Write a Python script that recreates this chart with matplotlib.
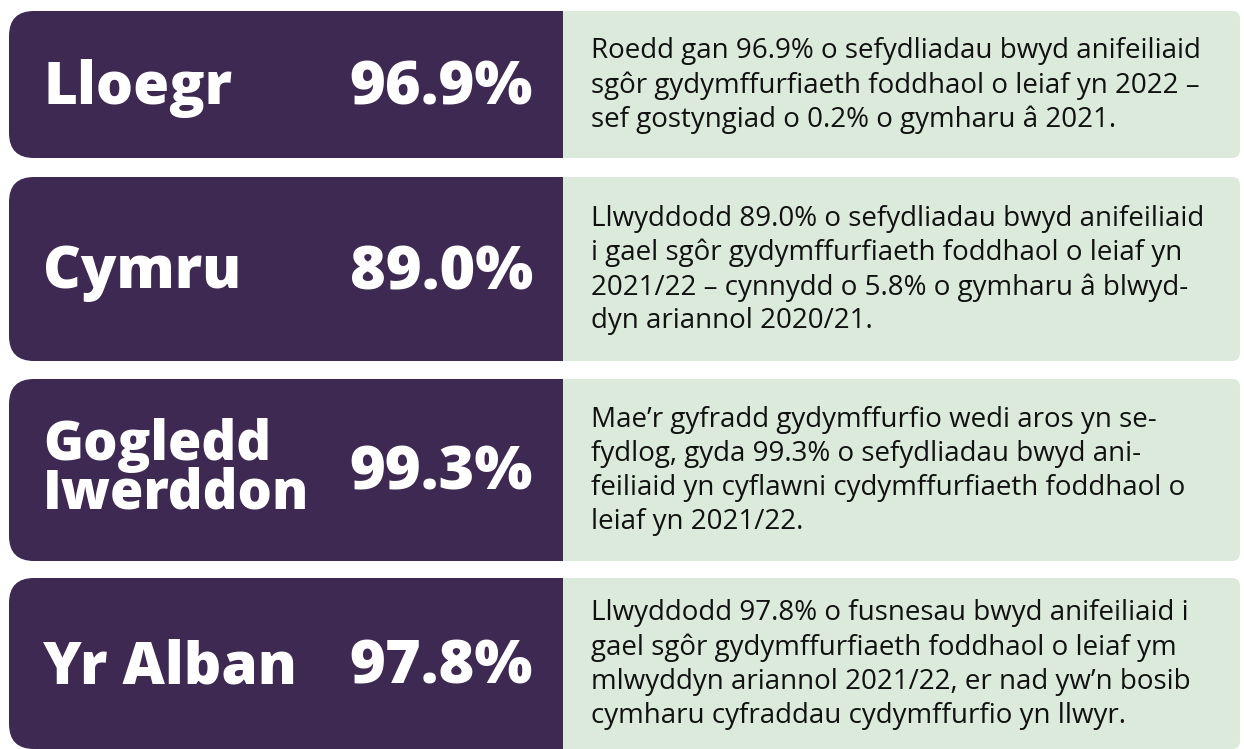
import matplotlib.pyplot as plt
from matplotlib.patches import FancyBboxPatch, Rectangle

# data
regions = ['Lloegr', 'Cymru', 'Gogledd\nIwerddon', 'Yr Alban']
percents = [96.9, 89.0, 99.3, 97.8]
notes = [
    'Roedd gan 96.9% o sefydliadau bwyd anifeiliaid\n'
    'sgôr gydymffurfiaeth foddhaol o leiaf yn 2022 –\n'
    'sef gostyngiad o 0.2% o gymharu â 2021.',
    'Llwyddodd 89.0% o sefydliadau bwyd anifeiliaid\n'
    'i gael sgôr gydymffurfiaeth foddhaol o leiaf yn\n'
    '2021/22 – cynnydd o 5.8% o gymharu â blwyd-\n'
    'dyn ariannol 2020/21.',
    'Mae’r gyfradd gydymffurfio wedi aros yn se-\n'
    'fydlog, gyda 99.3% o sefydliadau bwyd ani-\n'
    'feiliaid yn cyflawni cydymffurfiaeth foddhaol o\n'
    'leiaf yn 2021/22.',
    'Llwyddodd 97.8% o fusnesau bwyd anifeiliaid i\n'
    'gael sgôr gydymffurfiaeth foddhaol o leiaf ym\n'
    'mlwyddyn ariannol 2021/22, er nad yw’n bosib\n'
    'cymharu cyfraddau cydymffurfio yn llwyr.',
]

# layout (pixels)
tops = [11, 177, 379, 578]
bottoms = [158, 361, 561, 749]
label_size = [42, 42, 39, 42]
label_shift = [4, 4, 0, 4]
x0, xsplit, x1 = 9, 563, 1240
purple = '#3d2951'
green = '#dbeada'

W, H = 1244, 749
fig = plt.figure(figsize=(W / 100, H / 100), dpi=100)
ax = fig.add_axes([0, 0, 1, 1])
ax.set_xlim(0, W)
ax.set_ylim(H, 0)
ax.axis('off')

for i in range(4):
    t, b = tops[i], bottoms[i]
    h = b - t
    mid = (t + b) / 2
    # green part, slightly rounded on the right
    ax.add_patch(FancyBboxPatch((xsplit - 30, t), x1 - xsplit + 30, h,
                                boxstyle='round,pad=0,rounding_size=8',
                                fc=green, ec='none'))
    # purple part, rounded on the left
    ax.add_patch(FancyBboxPatch((x0, t), xsplit - x0, h,
                                boxstyle='round,pad=0,rounding_size=25',
                                fc=purple, ec='none'))
    ax.add_patch(Rectangle((xsplit - 40, t), 40, h, fc=purple, ec='none'))

    ax.text(43, mid + label_shift[i], regions[i], color='white',
            fontsize=label_size[i], fontweight='heavy', family='Open Sans',
            va='center', ha='left', linespacing=0.85)
    ax.text(533, mid + 4, f'{percents[i]:.1f}%', color='white', fontsize=44,
            fontweight='heavy', family='Open Sans', va='center', ha='right')
    ax.text(591, mid + 1, notes[i], color='#111111', fontsize=20,
            family='Open Sans', va='center', ha='left', linespacing=1.28)

fig.savefig('out.png', dpi=100)
